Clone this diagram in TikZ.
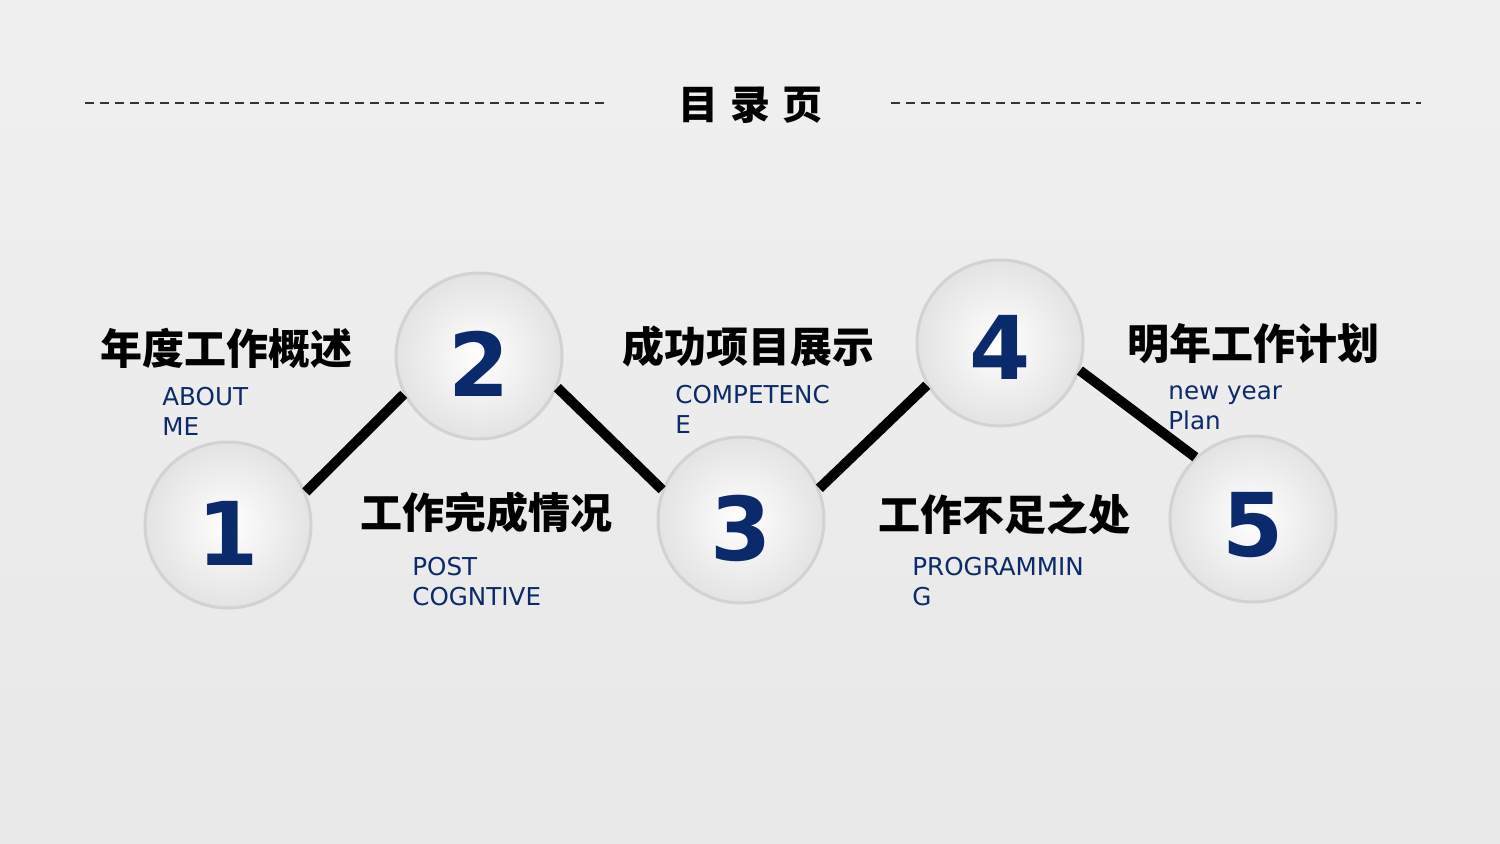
\documentclass[tikz,border=0pt]{standalone}
\usepackage{fontspec}
\setmainfont{DejaVu Sans}
\newfontfamily\cjk{Noto Sans CJK SC}
\definecolor{navy}{HTML}{0B2A6B}
\begin{document}
\begin{tikzpicture}[x=0.5pt,y=-0.5pt,
  ball/.style={circle,minimum size=83pt,inner sep=0pt,draw=gray!35,line width=1.5pt,
    inner color=white,outer color=gray!22},
  num/.style={font=\bfseries\fontsize{44}{44}\selectfont,text=navy,inner sep=0pt},
  link/.style={line width=5pt,black},
  ttl/.style={anchor=west,font=\cjk\bfseries\fontsize{21}{21}\selectfont,inner sep=0pt},
  sub/.style={anchor=north west,align=left,font=\fontsize{12.3}{15}\selectfont,text=navy,inner sep=0pt}]
\useasboundingbox (0,0) rectangle (1500,844);
\shade[top color=gray!12,bottom color=gray!18] (0,0) rectangle (1500,844);
\draw[line width=1pt,dash pattern=on 4.5pt off 3pt,black!80] (85,103) -- (608,103);
\draw[line width=1pt,dash pattern=on 4.5pt off 3pt,black!80] (891,103) -- (1421,103);
\node[font=\cjk\bfseries\fontsize{20}{20}\selectfont] (title) at (750,105) {目\hspace{6pt}录\hspace{6pt}页};
\node[ball] (n1) at (228,525) {};
\node[ball] (n2) at (479,356) {};
\node[ball] (n3) at (741,520) {};
\node[ball] (n4) at (1000,343) {};
\node[ball] (n5) at (1253,519) {};
\node[num] (l1) at ([yshift=-4pt]n1) {1};
\node[num] (l2) at ([yshift=-4pt]n2) {2};
\node[num] (l3) at ([yshift=-4pt]n3) {3};
\node[num] (l4) at ([yshift=-2pt]n4) {4};
\node[num] (l5) at ([yshift=-3pt]n5) {5};
\draw[link] (n1.23) -- (n2.-153);
\draw[link] (n2.-22) -- (n3.159);
\draw[link] (n3.22) -- (n4.-150);
\draw[link] (n4.-19) -- (n5.133);
\node[ttl] (t1) at (100,348) {年度工作概述};
\node[sub] (s1) at (162,387) {ABOUT\\ME};
\node[ttl] (t2) at (360,512) {工作完成情况};
\node[sub] (s2) at (412,557) {POST\\COGNTIVE};
\node[ttl] (t3) at (622,347) {成功项目展示};
\node[sub] (s3) at (675,385) {COMPETENC\\E};
\node[ttl] (t4) at (878,514) {工作不足之处};
\node[sub] (s4) at (912,557) {PROGRAMMIN\\G};
\node[ttl] (t5) at (1127,344) {明年工作计划};
\node[sub] (s5) at (1168,385) {new year\\Plan};
\end{tikzpicture}
\end{document}
